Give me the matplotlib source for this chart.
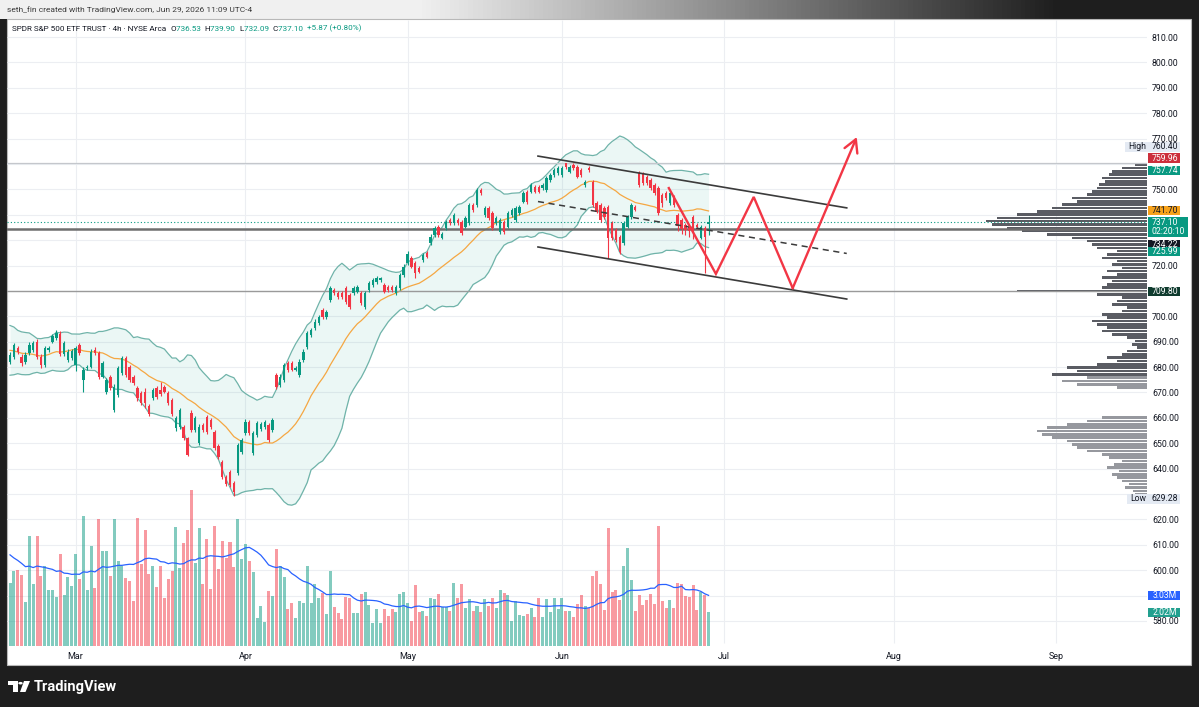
import numpy as np
import pandas as pd
import matplotlib
matplotlib.use("Agg")
import matplotlib.pyplot as plt
from matplotlib.patches import Rectangle, Circle, Polygon
from matplotlib.text import Annotation
from matplotlib.colors import LinearSegmentedColormap

plt.rcParams['font.family'] = ['Roboto', 'DejaVu Sans']

# ---------------- data (4h bars, SPY) ----------------
bar_open = [
    682.1, 684.1, 687.4, 684.1, 682.1, 685.4, 686.7, 690.0, 684.1, 680.8,
    686.7, 690.0, 691.3, 693.0, 685.0, 682.8, 683.4, 681.0, 688.7, 674.9,
    679.6, 680.2, 686.7, 685.4, 676.2, 670.3, 675.9, 663.1, 669.0, 677.5,
    683.4, 680.2, 676.2, 671.6, 669.6, 670.3, 664.7, 667.7, 671.6, 671.0,
    672.3, 669.6, 667.0, 656.0, 656.5, 656.5, 651.9, 662.0, 655.2, 650.0,
    657.2, 660.5, 659.1, 654.6, 648.9, 642.7, 636.8, 638.5, 634.2, 638.1,
    646.7, 653.9, 658.5, 646.0, 653.2, 655.5, 656.5, 657.2, 655.2, 676.9,
    672.9, 674.9, 681.5, 681.5, 679.0, 676.9, 682.8, 688.0, 692.6, 695.2,
    697.2, 702.5, 699.8, 706.4, 710.4, 709.0, 709.0, 711.0, 708.4, 709.0,
    709.7, 709.0, 703.8, 710.4, 712.3, 713.6, 714.3, 712.3, 711.7, 711.7,
    709.0, 711.0, 716.2, 720.9, 722.8, 720.9, 718.9, 722.2, 724.8, 728.7,
    732.0, 735.3, 731.0, 734.6, 737.9, 736.6, 737.9, 737.3, 735.3, 736.6,
    743.8, 743.8, 749.7, 739.9, 742.5, 740.5, 736.6, 733.3, 737.3, 735.3,
    739.9, 737.9, 740.5, 745.2, 749.1, 749.1, 751.1, 751.1, 750.4, 749.7,
    753.7, 755.7, 756.3, 755.7, 760.2, 757.0, 759.6, 758.9, 757.6, 751.7,
    758.3, 753.0, 744.5, 743.8, 742.5, 743.2, 736.6, 734.0, 731.4, 728.7,
    735.3, 739.2, 743.0, 756.3, 756.3, 755.0, 753.7, 751.7, 750.4, 747.8,
    748.4, 744.5, 747.1, 739.9, 737.9, 736.0, 735.3, 739.2, 736.0, 731.0,
    734.6, 736.53]
bar_high = [
    686.0, 689.6, 688.4, 685.0, 685.9, 689.8, 690.4, 691.0, 685.0, 688.3,
    688.2, 693.0, 694.6, 694.4, 690.2, 687.0, 687.2, 688.4, 689.6, 680.0,
    681.0, 687.0, 687.8, 686.3, 682.5, 675.8, 676.8, 673.2, 680.4, 684.3,
    684.2, 681.0, 677.0, 672.4, 670.4, 671.6, 665.5, 671.8, 672.4, 674.2,
    673.1, 670.4, 667.8, 660.7, 664.0, 657.3, 652.6, 663.2, 660.6, 657.4,
    658.0, 661.3, 660.0, 655.4, 649.7, 643.5, 637.6, 639.6, 635.0, 650.2,
    652.2, 659.4, 659.3, 654.8, 658.7, 658.3, 659.3, 658.0, 660.0, 677.8,
    677.1, 681.7, 682.4, 682.3, 680.3, 683.0, 687.0, 694.2, 695.4, 698.8,
    700.6, 703.3, 702.6, 711.9, 711.2, 709.8, 709.9, 711.8, 709.2, 711.8,
    712.5, 709.8, 709.8, 713.8, 715.1, 715.7, 715.6, 713.1, 712.4, 712.5,
    712.5, 717.0, 720.4, 725.6, 723.6, 721.7, 719.7, 724.9, 725.6, 732.3,
    735.5, 736.1, 733.2, 738.1, 738.7, 740.7, 738.7, 738.1, 739.4, 744.6,
    744.6, 750.6, 750.5, 743.3, 743.3, 741.3, 739.4, 738.7, 738.1, 741.3,
    742.7, 743.3, 744.0, 749.2, 749.9, 752.5, 751.9, 751.8, 752.5, 755.1,
    756.5, 758.4, 759.1, 759.2, 760.4, 759.7, 760.2, 759.7, 758.4, 753.8,
    759.1, 753.8, 745.3, 744.6, 743.3, 744.0, 737.4, 734.8, 732.2, 737.4,
    740.0, 744.6, 743.8, 757.1, 757.0, 755.8, 754.5, 752.5, 751.2, 748.6,
    749.2, 749.2, 747.9, 740.7, 738.7, 736.8, 736.1, 740.0, 736.8, 735.8,
    735.4, 739.90]
bar_low = [
    681.2, 683.3, 685.2, 680.6, 681.3, 684.6, 686.0, 683.2, 679.8, 680.0,
    685.9, 689.3, 690.6, 684.2, 684.3, 682.0, 682.8, 678.6, 684.7, 670.3,
    678.9, 679.5, 684.6, 675.4, 675.5, 669.4, 670.8, 662.4, 668.2, 676.8,
    676.0, 674.0, 672.8, 666.8, 664.9, 663.7, 660.7, 667.0, 667.5, 668.8,
    669.6, 664.9, 660.6, 655.0, 655.8, 651.1, 644.9, 654.4, 654.5, 649.2,
    654.5, 653.7, 655.7, 647.2, 643.9, 636.0, 633.0, 632.7, 629.28, 637.3,
    645.9, 653.2, 653.2, 645.3, 652.5, 654.8, 655.8, 650.5, 654.5, 671.5,
    672.2, 674.1, 678.1, 678.3, 678.4, 676.1, 682.0, 687.3, 691.9, 694.5,
    696.5, 699.0, 699.1, 705.6, 708.3, 707.0, 706.9, 705.0, 703.0, 708.3,
    709.0, 704.3, 703.0, 709.7, 711.6, 712.9, 713.6, 709.0, 709.7, 709.7,
    708.3, 710.3, 715.5, 720.2, 718.9, 714.9, 716.9, 721.5, 722.8, 728.0,
    731.3, 731.2, 730.3, 733.9, 735.9, 735.9, 735.9, 731.9, 734.6, 735.9,
    741.2, 743.1, 747.7, 739.2, 737.8, 733.8, 735.9, 732.5, 732.5, 734.6,
    739.2, 737.2, 739.8, 744.5, 744.4, 748.4, 748.4, 748.4, 749.7, 749.0,
    753.0, 755.0, 755.6, 755.0, 758.2, 756.3, 757.6, 754.3, 754.9, 751.0,
    756.9, 743.0, 740.5, 737.1, 738.5, 722.8, 729.9, 729.3, 724.7, 728.0,
    734.6, 738.5, 741.3, 751.0, 751.7, 751.7, 749.7, 747.7, 739.8, 743.1,
    745.8, 743.8, 743.1, 733.5, 732.6, 732.0, 731.3, 730.6, 734.3, 730.3,
    716.9, 732.09]
bar_close = [
    684.8, 688.7, 686.1, 681.5, 684.8, 688.7, 689.3, 684.1, 680.8, 687.4,
    687.4, 692.2, 693.5, 685.0, 689.3, 686.1, 686.3, 687.4, 685.4, 678.8,
    680.2, 686.1, 685.4, 676.2, 681.5, 674.9, 671.6, 672.3, 679.5, 683.4,
    676.9, 674.9, 673.6, 667.7, 665.7, 665.7, 661.5, 670.9, 668.3, 669.5,
    670.3, 665.7, 661.5, 659.8, 663.1, 651.9, 645.4, 655.2, 659.8, 656.5,
    655.2, 654.5, 656.5, 648.0, 644.7, 636.8, 633.8, 633.5, 630.9, 649.3,
    651.3, 658.5, 654.0, 653.9, 657.8, 657.5, 658.5, 651.3, 659.1, 672.3,
    676.2, 680.8, 678.8, 679.0, 679.5, 682.1, 686.1, 693.3, 694.6, 697.9,
    699.8, 699.8, 701.8, 711.0, 709.0, 707.7, 707.7, 705.8, 703.8, 711.0,
    711.7, 705.1, 709.0, 713.0, 714.3, 714.9, 714.9, 709.7, 710.4, 710.4,
    711.7, 716.2, 719.6, 724.5, 719.6, 716.9, 717.6, 724.1, 723.5, 731.4,
    734.6, 732.0, 732.4, 737.3, 736.6, 739.9, 736.6, 732.7, 738.6, 743.8,
    741.9, 749.7, 748.4, 742.5, 738.6, 734.6, 738.6, 737.9, 733.3, 740.5,
    741.9, 742.5, 743.2, 748.4, 745.2, 751.7, 749.1, 749.1, 751.7, 754.3,
    755.7, 757.6, 758.3, 758.3, 758.9, 758.9, 758.3, 755.0, 755.6, 753.0,
    757.6, 743.8, 741.2, 737.9, 739.2, 730.7, 730.7, 730.0, 725.5, 736.6,
    739.2, 743.8, 742.0, 751.7, 752.4, 752.4, 750.4, 748.4, 740.5, 744.5,
    746.5, 748.4, 743.8, 735.5, 734.5, 734.0, 733.5, 733.0, 735.0, 735.0,
    731.23, 737.10]
bar_volume = [  # millions
    3.79, 4.51, 4.55, 4.25, 2.65, 6.61, 3.71, 6.57, 4.19, 4.79,
    3.35, 3.35, 2.91, 5.53, 3.05, 4.11, 3.59, 5.49, 3.99, 7.80,
    3.35, 5.99, 3.49, 7.58, 5.69, 5.69, 4.19, 7.58, 5.11, 4.79,
    4.09, 3.91, 2.69, 7.66, 4.89, 6.95, 4.29, 4.79, 3.55, 4.79,
    2.89, 4.01, 4.51, 7.13, 4.65, 6.19, 6.95, 9.34, 4.99, 7.05,
    3.71, 6.39, 3.41, 7.21, 4.61, 6.29, 5.29, 6.25, 4.75, 7.58,
    5.19, 6.09, 5.11, 4.45, 1.70, 2.39, 1.42, 3.31, 2.99, 5.81,
    4.79, 4.11, 2.20, 2.55, 1.66, 2.69, 2.55, 4.79, 2.55, 3.71,
    2.85, 3.19, 1.92, 4.51, 2.32, 1.96, 1.60, 2.91, 2.85, 2.00,
    2.00, 3.11, 3.25, 2.45, 1.36, 2.22, 1.36, 2.22, 1.80, 2.22,
    2.06, 3.11, 3.21, 2.55, 1.50, 3.65, 2.02, 2.10, 1.80, 2.85,
    2.81, 3.09, 2.36, 2.36, 2.10, 3.75, 2.85, 3.69, 2.30, 2.81,
    2.10, 2.39, 2.06, 2.79, 2.39, 2.89, 2.26, 3.37, 3.15, 3.05,
    1.50, 2.69, 1.86, 1.80, 1.90, 2.30, 1.72, 2.85, 1.76, 2.79,
    2.06, 2.87, 2.20, 2.87, 2.10, 2.10, 1.74, 2.49, 3.05, 2.39,
    2.26, 4.19, 4.49, 3.71, 2.16, 7.05, 3.25, 3.35, 2.75, 4.79,
    5.89, 3.95, 2.12, 3.03, 2.45, 2.75, 3.11, 2.49, 7.19, 2.71,
    2.30, 2.75, 2.30, 3.75, 3.69, 2.99, 2.95, 3.65, 2.16, 3.21,
    3.05, 2.02]

# bars just before the visible window (needed to seed the 20-bar indicators)
pre_close = [693.0, 695.0, 691.0, 688.0, 690.0, 694.0, 692.0, 686.0, 683.0, 680.0,
             679.0, 684.0, 688.0, 686.0, 681.0, 678.0, 683.0, 687.0, 689.0]
pre_volume = [8.2, 7.5, 7.8, 6.6, 6.0, 5.4, 4.8, 5.0, 5.6, 4.6,
              4.4, 5.3, 4.9, 5.8, 4.5, 4.7, 5.2, 4.2, 4.9]

month_labels = ["Mar", "Apr", "May", "Jun", "Jul", "Aug", "Sep"]
month_pos = [17, 61, 103, 143, 185, 229, 271]   # bar index of first bar of month
price_ticks = list(range(580, 811, 10))
hidden_ticks = [760, 740, 730, 710, 630, 590]   # covered by the price scale tags

# visible range volume profile, 100 rows from the low to the high
vp_low, vp_high = 629.28, 760.40
vp_volume = [
    12, 14, 22, 18, 25, 30, 35, 28, 40, 33,
    25, 38, 45, 60, 70, 75, 80, 95, 105, 110,
    100, 80, 60, 45, 0, 0, 0, 0, 0, 0,
    0, 0, 30, 70, 85, 60, 95, 70, 80, 50,
    30, 40, 25, 20, 10, 15, 12, 20, 35, 45,
    40, 50, 55, 40, 45, 25, 20, 35, 30, 25,
    50, 130, 45, 40, 35, 45, 30, 40, 25, 35,
    30, 45, 40, 30, 50, 55, 60, 75, 100, 125,
    140, 155, 161, 150, 130, 110, 95, 85, 70, 75,
    60, 55, 50, 48, 42, 45, 38, 35, 25, 12]

# drawings (bar index, price)
channel_x = [136.8, 216.8]
channel_upper = [763.1, 742.7]
channel_lower = [727.3, 706.8]
zigzag_x = [170.7, 182.9, 192.7, 202.8, 219.4]
zigzag_y = [750.5, 716.7, 747.0, 711.1, 770.6]
hline_high = 760.40
hline_last = 737.10
hline_a = 734.22
hline_b = 709.80

# ---------------- indicators ----------------
n_pre = len(pre_close)
closes = pd.Series(pre_close + bar_close)
basis = closes.rolling(20).mean().to_numpy()[n_pre:]
dev = closes.rolling(20).std(ddof=0).to_numpy()[n_pre:]
upper = basis + 2 * dev
lower = basis - 2 * dev
vols = pd.Series(pre_volume + bar_volume)
vol_ma = vols.rolling(20).mean().to_numpy()[n_pre:]

O = np.array(bar_open); Hh = np.array(bar_high)
Lo = np.array(bar_low); C = np.array(bar_close)
V = np.array(bar_volume)
x = np.arange(len(C))

# ---------------- figure ----------------
FW, FH = 1199, 707
fig = plt.figure(figsize=(FW / 100, FH / 100), dpi=100, facecolor='#1e1e1e')


def fx(p):
    return p / FW


def fy(p):
    return 1 - p / FH


# header strip: light behind the credit text, fading into the dark frame
ax_head = fig.add_axes([0, fy(19), 1, 19 / FH], zorder=-5)
ax_head.set_axis_off()
head_cmap = LinearSegmentedColormap.from_list(
    'head', [(0, '#f0f0f0'), (420 / FW, '#f0f0f0'), (1060 / FW, '#1e1e1e'), (1, '#1e1e1e')])
ax_head.imshow(np.linspace(0, 1, FW)[None, :], cmap=head_cmap, aspect='auto',
               extent=(0, 1, 0, 1), vmin=0, vmax=1)

fig.add_artist(Rectangle((fx(7), fy(665)), fx(1191) - fx(7), (665 - 19) / FH,
                         transform=fig.transFigure, facecolor='white',
                         edgecolor='#b8b8b8', lw=0.8, zorder=-2))

rect = [fx(7), fy(646), fx(1147) - fx(7), (646 - 20) / FH]
ax_bg = fig.add_axes(rect, zorder=0)
ax_vol = fig.add_axes(rect, zorder=1)
ax_vp = fig.add_axes(rect, zorder=2)
ax = fig.add_axes(rect, zorder=3)
for a in (ax_bg, ax_vol, ax_vp, ax):
    a.patch.set_visible(False)
    for s in a.spines.values():
        s.set_visible(False)

xlim = (-0.78, 294.6)
ylim = (570.14, 816.70)
for a in (ax_bg, ax):
    a.set_xlim(*xlim)
    a.set_ylim(*ylim)
ax_bg.set_xticks([]); ax_bg.set_yticks([])

# grid
ax_bg.hlines(price_ticks, xlim[0], xlim[1], color='#eceef2', lw=0.8)
ax_bg.vlines(month_pos, ylim[0] + 1, ylim[1], color='#eceef2', lw=0.8)

# volume
ax_vol.set_xlim(*xlim)
ax_vol.set_ylim(0, 37.5)
ax_vol.set_xticks([]); ax_vol.set_yticks([])
up = C >= O
vcol = np.where(up, '#089981', '#f23645')
ax_vol.bar(x, V, width=0.78, color=vcol, alpha=0.5, lw=0)
ax_vol.plot(x, vol_ma, color='#2962ff', lw=0.9)

# volume profile
vp = np.array(vp_volume, dtype=float)
row_h = (vp_high - vp_low) / len(vp)
centers = vp_low + row_h * (np.arange(len(vp)) + 0.5)
poc = int(np.argmax(vp))
lo_i = hi_i = poc
acc = vp[poc]
while acc < 0.7 * vp.sum():
    nxt_up = vp[hi_i + 1] if hi_i + 1 < len(vp) else -1
    nxt_dn = vp[lo_i - 1] if lo_i - 1 >= 0 else -1
    if nxt_up >= nxt_dn:
        hi_i += 1; acc += nxt_up
    else:
        lo_i -= 1; acc += nxt_dn
vp_col = ['#5a5c63' if lo_i <= k <= hi_i else '#96989e' for k in range(len(vp))]
ax_vp.set_ylim(*ylim)
ax_vp.set_xlim(vp.max() * 1140 / 161, 0)
ax_vp.set_xticks([]); ax_vp.set_yticks([])
ax_vp.barh(centers, vp, height=row_h * 0.78, color=vp_col, lw=0)

# bollinger bands
ax.fill_between(x, lower, upper, color='#089981', alpha=0.08, lw=0, zorder=1)
ax.plot(x, upper, color='#6fb3a9', lw=0.9, zorder=2)
ax.plot(x, lower, color='#6fb3a9', lw=0.9, zorder=2)
ax.plot(x, basis, color='#f5a742', lw=0.9, zorder=2)

# horizontal lines
ax.axhline(hline_high, color='#c4c7cc', lw=0.9, zorder=2)
ax.axhline(hline_last, color='#089981', lw=0.8, ls=(0, (1, 2)), zorder=2)
ax.axhline(hline_a, color='#6e6e6e', lw=1.8, zorder=2)
ax.axhline(hline_b, color='#9a9a9a', lw=1.0, zorder=2)

# candles
ccol = np.where(up, '#089981', '#f23645')
ax.vlines(x, Lo, Hh, colors=ccol, lw=0.8, zorder=4)
ax.bar(x, np.maximum(np.abs(C - O), 0.25), bottom=np.minimum(O, C), width=0.62,
       color=ccol, lw=0, zorder=4)

# channel + projection
ax.plot(channel_x, channel_upper, color='#3b3b3b', lw=1.2, zorder=5)
ax.plot(channel_x, channel_lower, color='#3b3b3b', lw=1.2, zorder=5)
ax.plot(channel_x, [(a + b) / 2 for a, b in zip(channel_upper, channel_lower)],
        color='#3b3b3b', lw=1.1, ls=(0, (4, 3)), zorder=5)
ax.plot(zigzag_x[:-1], zigzag_y[:-1], color='#f23645', lw=1.7, zorder=6,
        solid_joinstyle='miter')
ax.annotate('', xy=(zigzag_x[-1], zigzag_y[-1]), xytext=(zigzag_x[-2], zigzag_y[-2]),
            arrowprops=dict(arrowstyle='->,head_length=0.9,head_width=0.5',
                            color='#f23645', lw=1.7, shrinkA=0, shrinkB=0), zorder=6)

# axes ticks
ax.yaxis.tick_right()
ax.set_yticks(price_ticks)
ax.set_yticklabels(['' if p in hidden_ticks else f'{p:.2f}' for p in price_ticks])
ax.tick_params(axis='y', length=0, pad=3.6, labelsize=6.3, labelcolor='#131722')
ax.set_xticks(month_pos)
ax.set_xticklabels(month_labels)
ax.tick_params(axis='x', length=0, pad=4.0, labelsize=6.5, labelcolor='#131722')


# ---------------- price scale tags ----------------
def py(a, val, off=0):
    return a.transData.transform((0, val))[1] / FH - off / FH


def tag(yf, text, bg, fg, x0=1148, x1=1180, h=9.5, sub=None, label=None):
    hh = h if sub is None else 20
    top = yf + h / 2 / FH
    fig.add_artist(Rectangle((fx(x0), top - hh / FH), (x1 - x0) / FW, hh / FH,
                             transform=fig.transFigure, facecolor=bg,
                             edgecolor='none', zorder=9))
    fig.text(fx(1165), yf, text, color=fg, fontsize=6.2,
             ha='center', va='center', zorder=10)
    if sub:
        fig.text(fx((x0 + x1) / 2), yf - 9 / FH, sub, color=fg, fontsize=6.2,
                 ha='center', va='center', zorder=10)
    if label:
        fig.text(fx(x0 + 3), yf, label, color=fg, fontsize=6.2,
                 ha='left', va='center', zorder=10)


tag(py(ax, 760.40, -16), '760.40', '#e4eaf3', '#131722', x0=1125, label='High')
tag(py(ax, 759.96, -6), '759.96', '#cc2f3c', 'white')
tag(py(ax, 757.74, 1), '757.74', '#089981', 'white')
tag(py(ax, 741.70), '741.70', '#f7a21b', '#131722')
tag(py(ax, hline_last), '737.10', '#089981', 'white', x1=1188, sub='02:20:10')
tag(py(ax, hline_a, 15), '734.22', '#131722', 'white')
tag(py(ax, 725.99, 1), '725.99', '#089981', 'white')
tag(py(ax, hline_b), '709.80', '#0f3b2e', 'white')
tag(py(ax, 629.28, 3), '629.28', '#e4eaf3', '#131722', x0=1127, label='Low')
tag(py(ax_vol, vol_ma[-1]), f'{vol_ma[-1]:.2f}M', '#2962ff', 'white')
tag(py(ax_vol, V[-1]), f'{V[-1]:.2f}M', '#22a08f', 'white')

# ---------------- header texts ----------------
fig.text(fx(7), fy(9.5), 'seth_fin created with TradingView.com, Jun 29, 2026 11:09 UTC-4',
         color='#3a3a3a', fontsize=6.0, va='center', ha='left')

parts = [("SPDR S&P 500 ETF TRUST · 4h · NYSE Arca  ", '#131722'),
         ("O", '#131722'), ("736.53  ", '#089981'),
         ("H", '#131722'), ("739.90  ", '#089981'),
         ("L", '#131722'), ("732.09  ", '#089981'),
         ("C", '#131722'), ("737.10  ", '#089981'),
         ("+5.87 (+0.80%)", '#089981')]
prev = fig.text(fx(12), fy(29), parts[0][0], color=parts[0][1], fontsize=5.9,
                va='center', ha='left', zorder=10)
for s, c in parts[1:]:
    prev = fig.add_artist(Annotation(s, xy=(1, 0), xycoords=prev, va='bottom',
                                     ha='left', color=c, fontsize=5.9, zorder=10))

# ---------------- TradingView logo ----------------
fig.add_artist(Rectangle((fx(8), fy(685)), 9.5 / FW, 4 / FH, transform=fig.transFigure,
                         facecolor='white', edgecolor='none'))
fig.add_artist(Rectangle((fx(13), fy(692)), 4.5 / FW, 11 / FH, transform=fig.transFigure,
                         facecolor='white', edgecolor='none'))
fig.add_artist(Circle((fx(20.5), fy(683.2)), 2.2 / FW, transform=fig.transFigure,
                      facecolor='white', edgecolor='none'))
fig.add_artist(Polygon([(fx(24), fy(681)), (fx(30), fy(681)), (fx(25.5), fy(692)),
                        (fx(20), fy(692))], closed=True, transform=fig.transFigure,
                       facecolor='white', edgecolor='none'))
fig.text(fx(34), fy(686.5), 'TradingView', color='white', fontsize=10.5,
         fontweight='bold', va='center', ha='left')

fig.savefig('out.png', dpi=100, facecolor=fig.get_facecolor())
